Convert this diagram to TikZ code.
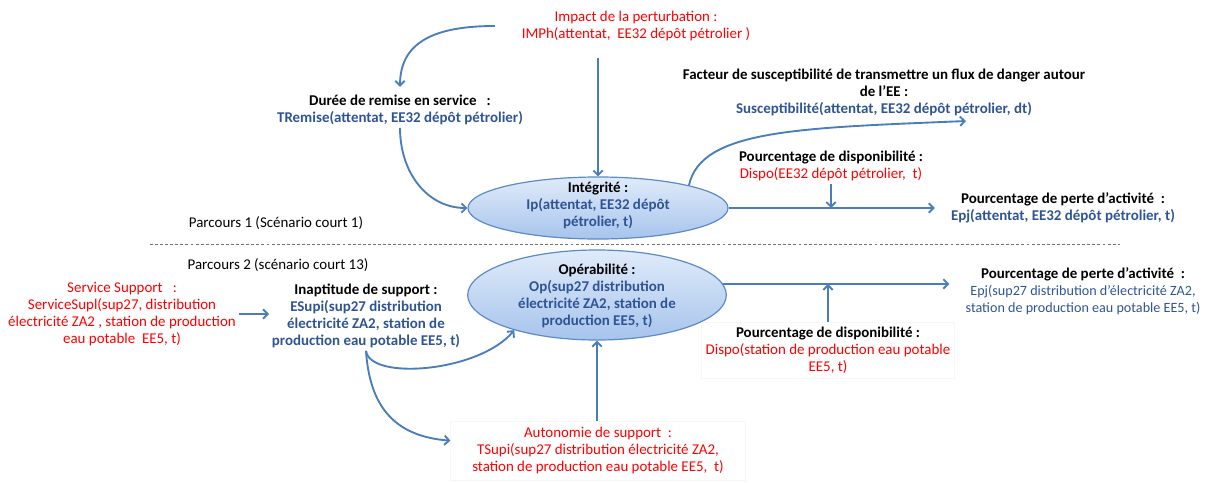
\documentclass[tikz,border=0pt]{standalone}
\usepackage{fontspec}
\setmainfont{Carlito}
\usetikzlibrary{arrows.meta,shapes.geometric}
\definecolor{arrblue}{HTML}{4A7EBB}
\definecolor{txtblue}{HTML}{2F5496}
\definecolor{txtred}{HTML}{FF0000}
\definecolor{ellfillA}{HTML}{E0EBFA}
\definecolor{ellfillB}{HTML}{A7C4EC}
\definecolor{ellline}{HTML}{5B8BC8}
\begin{document}
\begin{tikzpicture}[x=0.75pt,y=-0.75pt,
  txt/.style={font=\fontsize{11.2}{12.75}\selectfont, align=center, inner sep=2pt},
  btxt/.style={txt, font=\fontsize{11.2}{12.75}\selectfont\bfseries},
  rtxt/.style={txt, text=txtred},
  faintbox/.style={draw=black!3, line width=0.4pt},
  arr/.style={draw=arrblue, line width=1.4pt, -{Straight Barb[length=3.5pt,width=7pt]}},
  ell/.style={ellipse, draw=ellline, line width=0.9pt, top color=ellfillA, bottom color=ellfillB, inner sep=0pt},
]
\useasboundingbox (0,0) rectangle (1205,482);

% ---------- Parcours 1 ----------
\node[rtxt] (impact) at (636,26) {Impact de la perturbation :\\IMPh(attentat,\ \ EE32 dépôt pétrolier )};
\node[btxt] (duree) at (400,110) {Durée de remise en service\ \ \ :\\\textcolor{txtblue}{TRemise(attentat, EE32 dépôt pétrolier)}};
\node[btxt] (facteur) at (884,92) {Facteur de susceptibilité de transmettre un flux de danger autour\\de l’EE :\\\textcolor{txtblue}{Susceptibilité(attentat, EE32 dépôt pétrolier, dt)}};
\coordinate (suscend) at (966,121);
\node[btxt] (dispoA) at (831,166) {Pourcentage de disponibilité :\\\textcolor{txtred}{\mdseries Dispo(EE32 dépôt pétrolier,\ \ t)}};
\node[btxt] (epjA) at (1063,208) {Pourcentage de perte d’activité\ \ :\\\textcolor{txtblue}{Epj(attentat, EE32 dépôt pétrolier, t)}};
\node[ell, minimum width=195pt, minimum height=46.5pt] (integ) at (598,208) {};
\node[btxt] (integtxt) at (598,205) {Intégrité :\\\textcolor{txtblue}{Ip(attentat, EE32 dépôt}\\\textcolor{txtblue}{pétrolier, t)}};
\node[txt] (parcA) at (276,223) {Parcours 1 (Scénario court 1)};

% separator
\coordinate (sepL) at (150,244);
\coordinate (sepR) at (1120,244);
\draw[black!55, line width=0.6pt, dash pattern=on 2.2pt off 1.6pt] (sepL) -- (sepR);

% ---------- Parcours 2 ----------
\node[txt] (parcB) at (278,265) {Parcours 2 (scénario court 13)};
\node[rtxt] (service) at (122,314) {Service Support\ \ \ :\\ServiceSupl(sup27, distribution\\électricité ZA2 , station de production\\eau potable\ \ EE5, t)};
\node[btxt] (inapt) at (366,316) {Inaptitude de support :\\\textcolor{txtblue}{ESupi(sup27 distribution}\\\textcolor{txtblue}{électricité ZA2, station de}\\\textcolor{txtblue}{production eau potable EE5, t)}};
\node[ell, minimum width=194pt, minimum height=67.5pt] (op) at (597,295) {};
\node[btxt] (optxt) at (597,296) {Opérabilité :\\\textcolor{txtblue}{Op(sup27 distribution}\\\textcolor{txtblue}{électricité ZA2, station de}\\\textcolor{txtblue}{production EE5, t)}};
\node[btxt, faintbox, minimum width=190pt, minimum height=42pt] (dispoB) at (828,350) {Pourcentage de disponibilité :\\\textcolor{txtred}{\mdseries Dispo(station de production eau potable}\\\textcolor{txtred}{\mdseries EE5, t)}};
\node[btxt] (epjB) at (1083,291) {Pourcentage de perte d’activité\ \ :\\\textcolor{txtblue}{\mdseries\fontsize{10.6}{12.75}\selectfont Epj(sup27 distribution d’électricité ZA2,}\\\textcolor{txtblue}{\mdseries\fontsize{10.6}{12.75}\selectfont station de production eau potable EE5, t)}};
\node[rtxt, faintbox, minimum width=221pt, minimum height=44pt] (auto) at (598,451) {Autonomie de support\ \ :\\TSupi(sup27 distribution électricité ZA2,\\station de production eau potable EE5,\ \ t)};

% ---------- connectors ----------
\draw[arr] ([xshift=-18pt]impact.west) .. controls +(-60,0) and +(0,-45) .. ([yshift=4pt]duree.north);
\draw[arr, shorten <=11pt] (impact.south -| integ.north) -- (integ.north);
\draw[arr] (duree.south) .. controls +(0,45) and +(-40,0) .. (integ.west);
\draw[arr] (integ.14) .. controls +(12,-56) and +(-166,7) .. (suscend);
\draw[arr] (dispoA.south) -- (dispoA.south |- integ.east);
\draw[arr, shorten >=10pt] (integ.east) -- (integ.east -| epjA.west);

\draw[arr] (service.east) -- (service.east -| inapt.west);
\draw[arr] (inapt.south) .. controls +(4,30) and +(-35,42) .. (op.203);
\draw[arr] (inapt.south) .. controls +(4,62) and +(-50,-4) .. (auto.176);
\draw[arr] (auto.north -| op.south) -- (op.south);
\draw[arr, shorten >=10pt] (op.5) -- (op.5 -| epjB.west);
\draw[arr] (dispoB.north) -- (dispoB.north |- op.5);
\end{tikzpicture}
\end{document}
